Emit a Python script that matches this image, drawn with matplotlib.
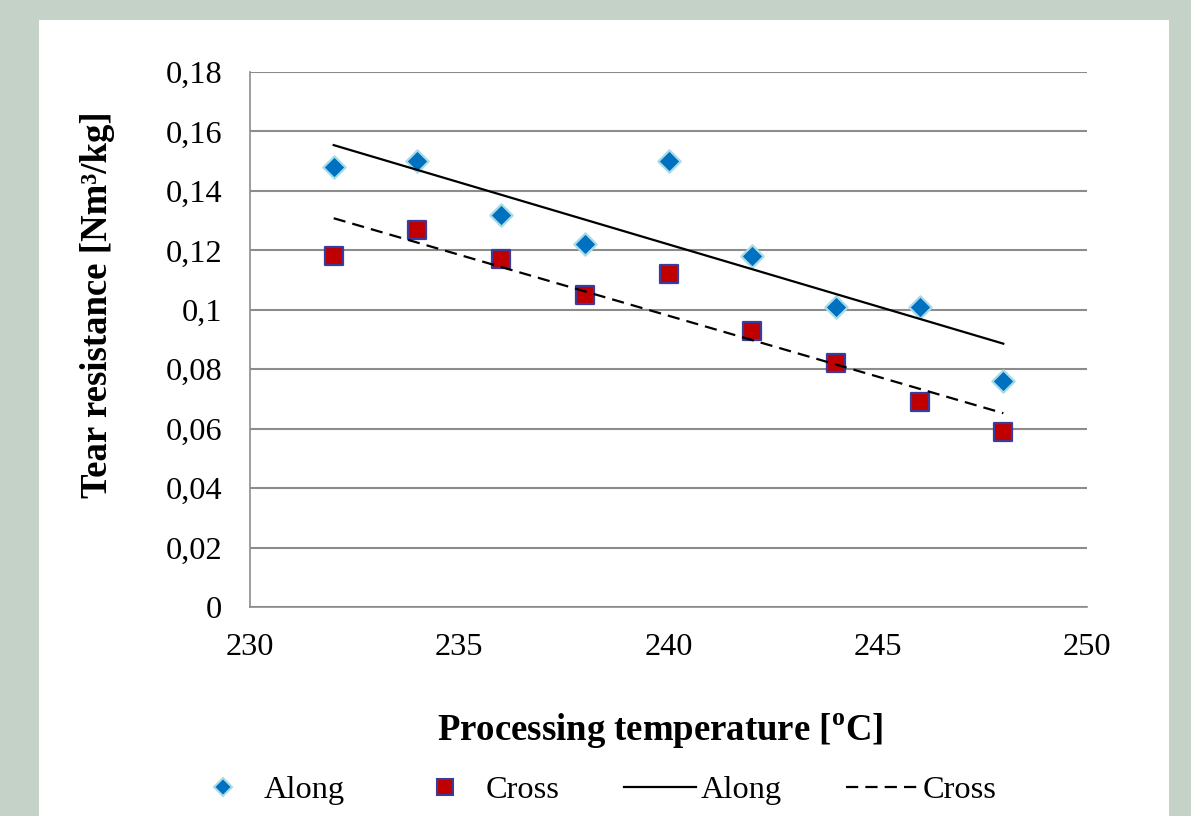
import matplotlib
matplotlib.use("Agg")
import matplotlib.pyplot as plt
import numpy as np
from matplotlib.patches import Rectangle
from matplotlib.lines import Line2D
from matplotlib.ticker import FuncFormatter, MultipleLocator

plt.rcParams['font.family'] = ['Liberation Serif', 'DejaVu Serif']
plt.rcParams['mathtext.fontset'] = 'custom'
plt.rcParams['mathtext.rm'] = 'Liberation Serif'
plt.rcParams['mathtext.bf'] = 'Liberation Serif:bold'

temperature = [232, 234, 236, 238, 240, 242, 244, 246, 248]
along = [0.148, 0.150, 0.132, 0.122, 0.150, 0.118, 0.101, 0.101, 0.076]
cross = [0.118, 0.127, 0.117, 0.105, 0.112, 0.093, 0.082, 0.069, 0.059]
series_names = ["Along", "Cross"]

W, H = 1191, 816
fig = plt.figure(figsize=(W / 100, H / 100), dpi=100)
fig.patch.set_facecolor('#c4d2c8')
fig.patches.append(Rectangle((39 / W, 0), (1169 - 39) / W, (816 - 20) / H,
                             transform=fig.transFigure, facecolor='white',
                             edgecolor='none', zorder=-5))

ax = fig.add_axes([250 / W, 1 - 607 / H, (1087 - 250) / W, (607 - 72) / H])
ax.set_facecolor('none')
ax.set_xlim(230, 250)
ax.set_ylim(0, 0.18)
ax.xaxis.set_major_locator(MultipleLocator(5))
ax.yaxis.set_major_locator(MultipleLocator(0.02))
ax.yaxis.set_major_formatter(FuncFormatter(lambda v, p: f"{round(v, 2):g}".replace('.', ',')))
ax.grid(axis='y', color='#8c8c8c', linewidth=1.5)
ax.set_axisbelow(True)
for s in ['top', 'right']:
    ax.spines[s].set_visible(False)
for s in ['left', 'bottom']:
    ax.spines[s].set_color('#8c8c8c')
    ax.spines[s].set_linewidth(1.2)
ax.tick_params(axis='both', length=0, labelsize=23.3)
ax.tick_params(axis='x', pad=19)
ax.tick_params(axis='y', pad=20)

x = np.array(temperature, dtype=float)
ax.scatter(temperature, along, marker='D', s=130, color='#0070c0',
           edgecolors='#a8dce6', linewidths=1.6, zorder=3)
ax.scatter(temperature, cross, marker='s', s=150, color='#c00000',
           edgecolors='#3b3b9c', linewidths=1.6, zorder=3)

pa = np.polyfit(x, along, 1)
pc = np.polyfit(x, cross, 1)
xs = np.array([x.min(), x.max()])
ax.plot(xs, np.polyval(pa, xs), color='black', linewidth=1.6, zorder=4)
ax.plot(xs, np.polyval(pc, xs), color='black', linewidth=1.6,
        dashes=(5.5, 3.2), zorder=4)

fig.text(660 / W, 1 - 731 / H, r'Processing temperature [$^{\mathbf{o}}$C]',
         fontsize=26.5, fontweight='bold', ha='center', va='center')
fig.text(98 / W, 1 - 305 / H, 'Tear resistance [Nm³/kg]', fontsize=26.5,
         fontweight='bold', ha='center', va='center', rotation=90)

handles = [
    Line2D([], [], linestyle='none', marker='D', markersize=9,
           markerfacecolor='#0070c0', markeredgecolor='#a8dce6', markeredgewidth=1.5),
    Line2D([], [], linestyle='none', marker='s', markersize=11,
           markerfacecolor='#c00000', markeredgecolor='#3b3b9c', markeredgewidth=1.5),
    Line2D([], [], color='black', linewidth=1.6),
    Line2D([], [], color='black', linewidth=1.6, dashes=(5.5, 3.2)),
]
labels = series_names + series_names
fig.legend(handles, labels, loc='center', bbox_to_anchor=(592 / W, 1 - 790 / H),
           ncol=4, frameon=False, fontsize=23.3, handlelength=2.2,
           columnspacing=2.0, handletextpad=0.15, borderpad=0, borderaxespad=0)

fig.savefig('out.png', dpi=100, facecolor=fig.get_facecolor())
